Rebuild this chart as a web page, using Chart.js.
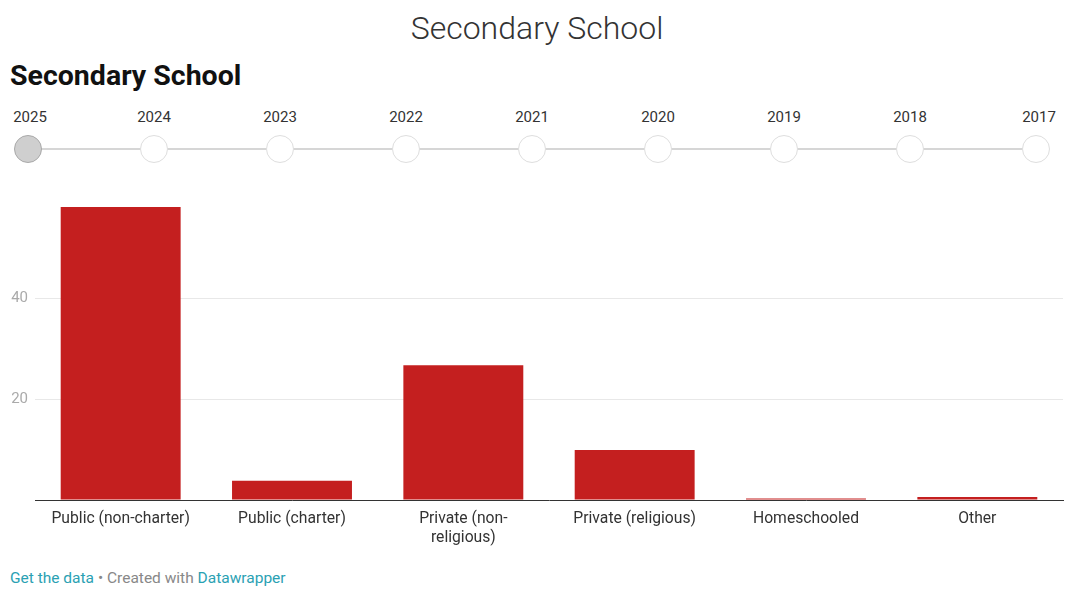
<!DOCTYPE html>
<html>
<head>
<meta charset="utf-8">
<script src="https://cdn.jsdelivr.net/npm/chart.js@4"></script>
<style>
  body { margin: 0; background: #fff; font-family: Roboto, "Noto Sans", sans-serif; }
  #page { position: relative; width: 1080px; height: 602px; overflow: hidden; }
  #topTitle { position: absolute; top: 9px; left: 0; width: 1074px; text-align: center;
    font-weight: 300; font-size: 32px; color: #333; }
  #title { position: absolute; top: 59px; left: 10px; font-weight: 700; font-size: 28.5px; color: #111; }
  #timeline { position: absolute; top: 105px; left: 0; width: 1080px; height: 70px; }
  .line { position: absolute; top: 43px; height: 2px; background: #d6d6d6; }
  .dot { position: absolute; top: 30px; width: 26px; height: 26px; border-radius: 50%;
    border: 1.5px solid #dedede; background: #fff; }
  .dot.on { background: #cfcfcf; border-color: #a9a9a9; }
  .yr { position: absolute; top: 3px; width: 60px; text-align: center; font-size: 15px; color: #333; }
  #wrap { position: absolute; top: 181px; left: 0; width: 1080px; height: 369px; }
  #footer { position: absolute; top: 569px; left: 10px; font-size: 15.5px; color: #888; }
  #footer a { color: #2aa1b3; text-decoration: none; }
</style>
</head>
<body>
<div id="page">
  <div id="topTitle">Secondary School</div>
  <div id="title">Secondary School</div>
  <div id="timeline"></div>
  <div id="wrap"><canvas id="chart"></canvas></div>
  <div id="footer"><a>Get the data</a> • Created with <a>Datawrapper</a></div>
</div>
<script>
const years = ['2025', '2024', '2023', '2022', '2021', '2020', '2019', '2018', '2017'];
const categories = [
  'Public (non-charter)',
  'Public (charter)',
  ['Private (non-', 'religious)'],
  'Private (religious)',
  'Homeschooled',
  'Other'
];
const values = [58.0, 3.8, 26.7, 9.9, 0.3, 0.6];
const yTicks = [20, 40];

// year slider
const tl = document.getElementById('timeline');
const x0 = 28, step = 126;
const line = document.createElement('div');
line.className = 'line';
line.style.left = x0 + 'px';
line.style.width = (step * (years.length - 1)) + 'px';
tl.appendChild(line);
years.forEach((y, i) => {
  const cx = x0 + step * i;
  const lab = document.createElement('div');
  lab.className = 'yr';
  lab.textContent = y;
  lab.style.left = (cx - 30 + (i === 0 ? 2 : 0) + (i === years.length - 1 ? 3 : 0)) + 'px';
  tl.appendChild(lab);
  const d = document.createElement('div');
  d.className = 'dot' + (i === 0 ? ' on' : '');
  d.style.left = (cx - 14) + 'px';
  tl.appendChild(d);
});

new Chart(document.getElementById('chart'), {
  type: 'bar',
  data: {
    labels: categories,
    datasets: [{
      data: values,
      backgroundColor: '#c41f1f',
      barPercentage: 0.7,
      categoryPercentage: 1.0
    }]
  },
  options: {
    responsive: true,
    maintainAspectRatio: false,
    animation: false,
    layout: { padding: { top: 7, right: 17, bottom: 0, left: 0 } },
    plugins: { legend: { display: false }, tooltip: { enabled: false } },
    scales: {
      x: {
        grid: { display: false },
        border: { display: true, color: '#333', width: 1 },
        ticks: { color: '#333', font: { family: 'Roboto', size: 15.7 }, padding: 2, maxRotation: 0, autoSkip: false },
        afterFit: s => { s.height = 50; }
      },
      y: {
        min: 0,
        max: 60,
        border: { display: false },
        grid: {
          drawTicks: false,
          color: c => yTicks.includes(c.tick.value) ? '#e8e8e8' : 'rgba(0,0,0,0)'
        },
        ticks: {
          stepSize: 20,
          padding: 7,
          color: '#aaa',
          font: { family: 'Roboto', size: 15 },
          callback: v => yTicks.includes(v) ? v : ''
        },
        afterFit: s => { s.width = 35; }
      }
    }
  }
});
</script>
</body>
</html>
